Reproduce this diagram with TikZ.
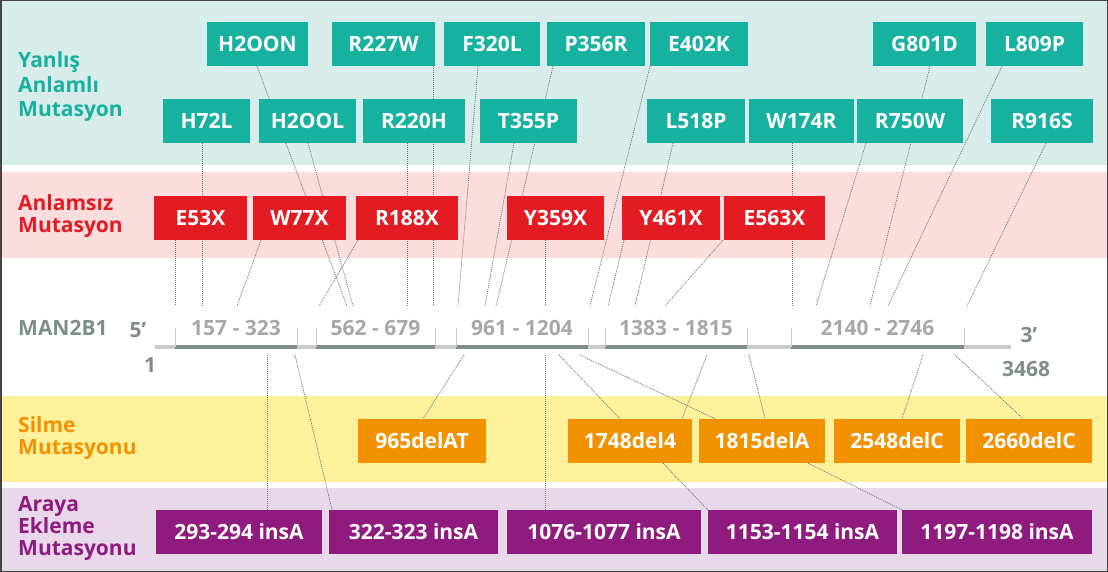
\documentclass[tikz,border=0pt]{standalone}
\usepackage{fontspec}
\setmainfont{Open Sans}
\usetikzlibrary{backgrounds}

\definecolor{tealbg}{HTML}{D8EDEA}
\definecolor{tealbox}{HTML}{17B1A0}
\definecolor{pinkbg}{HTML}{FBDDDE}
\definecolor{redbox}{HTML}{E31B23}
\definecolor{yellowbg}{HTML}{FEF19C}
\definecolor{orangebox}{HTML}{F39200}
\definecolor{purplebg}{HTML}{E9D7EA}
\definecolor{purplebox}{HTML}{8F1B7E}
\definecolor{genegray}{HTML}{7E8C8C}
\definecolor{genelight}{HTML}{CACACA}
\definecolor{labelgray}{HTML}{A8A8A8}
\definecolor{dotgray}{HTML}{6F7A7A}
\definecolor{framegray}{HTML}{444444}

\begin{document}
\begin{tikzpicture}[x=1pt, y=-1pt,
    mutbox/.style={rectangle, minimum height=44pt, inner sep=0pt, text=white, font=\fontsize{21}{24}\selectfont\bfseries},
    misbox/.style={mutbox, fill=tealbox},
    nonbox/.style={mutbox, fill=redbox},
    delbox/.style={mutbox, fill=orangebox},
    insbox/.style={mutbox, fill=purplebox},
    category/.style={anchor=west, align=left, inner sep=0pt, font=\fontsize{21}{22}\selectfont\bfseries},
    conn/.style={dotgray, line width=0.8pt, dash pattern=on 1pt off 1pt},
    exon/.style={genegray, line width=4pt},
    exontick/.style={genelight, line width=1pt},
    exlabel/.style={labelgray, font=\fontsize{21}{24}\selectfont\bfseries},
    genetext/.style={genegray, font=\fontsize{21}{24}\selectfont\bfseries}
]
    \useasboundingbox (0,0) rectangle (1108,572);

    % Bands
    \begin{scope}[on background layer]
        \fill[tealbg] (0,0) rectangle (1108,165);
        \fill[pinkbg] (0,172) rectangle (1108,258);
        \fill[yellowbg] (0,396) rectangle (1108,482);
        \fill[purplebg] (0,488) rectangle (1108,572);
    \end{scope}

    % Categories
    \node[category, tealbox, font=\fontsize{21}{24.5}\selectfont\bfseries] (cat-mis) at (18,87) {Yanlış\\Anlamlı\\Mutasyon};
    \node[category, redbox] (cat-non) at (18,216) {Anlamsız\\Mutasyon};
    \node[category, genegray] (cat-gene) at (18,328) {MAN2B1};
    \node[category, orangebox] (cat-del) at (18,438) {Silme\\Mutasyonu};
    \node[category, purplebox] (cat-ins) at (18,528) {Araya\\Ekleme\\Mutasyonu};

    % Missense, upper row
    \foreach \n/\x/\w/\t in {h2oon/257.5/101/H2OON, r227w/383.5/103/R227W, f320l/492/96/F320L,
        p356r/596/98/P356R, e402k/699/98/E402K, g801d/924.5/103/G801D, l809p/1034.5/97/L809P}
        \node[misbox, minimum width=\w pt] (\n) at (\x,44) {\t};

    % Missense, lower row
    \foreach \n/\x/\w/\t in {h72l/206.5/87/H72L, h2ool/307.5/97/H2OOL, r220h/414/102/R220H,
        t355p/528.5/97/T355P, l518p/696/98/L518P, w174r/801.5/105/W174R, r750w/910/106/R750W,
        r916s/1042/102/R916S}
        \node[misbox, minimum width=\w pt] (\n) at (\x,121) {\t};

    % Nonsense
    \foreach \n/\x/\w/\t in {e53x/200.5/93/E53X, w77x/299.5/93/W77X, r188x/407/102/R188X,
        y359x/555.5/97/Y359X, y461x/671/98/Y461X, e563x/774.5/101/E563X}
        \node[nonbox, minimum width=\w pt] (\n) at (\x,218) {\t};

    % Deletions
    \foreach \n/\x/\w/\t in {d965/422/128/965delAT, d1748/630/124/1748del4, d1815/762/126/1815delA,
        d2548/897/126/2548delC, d2660/1029/126/2660delC}
        \node[delbox, minimum width=\w pt] (\n) at (\x,441) {\t};

    % Insertions
    \foreach \n/\x/\w/\t in {i293/239/166/293-294 insA, i322/413.5/169/322-323 insA,
        i1076/604/194/1076-1077 insA, i1153/802.5/189/1153-1154 insA, i1197/997/190/1197-1198 insA}
        \node[insbox, minimum width=\w pt] (\n) at (\x,532) {\t};

    % Gene
    \draw[genelight, line width=4pt] (155,347) -- (1011,347);
    \foreach \a/\b/\t in {175/297/157 - 323, 316/435/562 - 679, 456/588/961 - 1204,
        605/747/1383 - 1815, 791/964/2140 - 2746} {
        \draw[exon] (\a,347) -- (\b,347);
        \draw[exontick] (\a,328) -- (\a,347) (\b,328) -- (\b,347);
        \node[exlabel] (exon-\a) at ({(\a+\b)/2},328) {\t};
    }
    \node[genetext] (five) at (138,330) {5’};
    \node[genetext] (first) at (150,365) {1};
    \node[genetext] (three) at (1029,335) {3’};
    \node[genetext] (last) at (1026,369) {3468};

    % Connectors
    \begin{scope}[on background layer]
        \foreach \n/\sx/\ex in {e53x/175/175, h72l/202/202, w77x/261/237, r188x/358/319,
            h2oon/257/347, h2ool/308/353, r220h/407/407, r227w/433/433, f320l/478/458,
            t355p/514/485, p356r/553/496, y359x/545/545, e402k/650/590, y461x/624/608,
            l518p/673/635, e563x/723/665, w174r/792/792, r750w/866/816, g801d/930/870,
            l809p/1002/888, r916s/1046/967} {
            \coordinate (top-\n) at (\ex,306);
            \draw[conn] (\n.south -| \sx,0) -- (top-\n);
        }
        \foreach \n/\sx/\ex in {i293/267/267, i322/295/332, d965/464/423, i1076/545/545,
            d1748/559/620, d1815/580/715, d1748/707/682, d1815/749/765, d2548/923/902,
            d2660/955/1023} {
            \coordinate (bot-\sx) at (\sx,355);
            \draw[conn] (bot-\sx) -- (\n.north -| \ex,0);
        }
        \draw[conn] (d1748.south -| 663,0) -- (i1153.north west);
        \draw[conn] (d1815.south -| 808,0) -- (i1197.north west);
    \end{scope}

    % Frame
    \draw[framegray, line width=1.5pt] (0.75,0.75) rectangle (1107.25,571.25);
\end{tikzpicture}
\end{document}
